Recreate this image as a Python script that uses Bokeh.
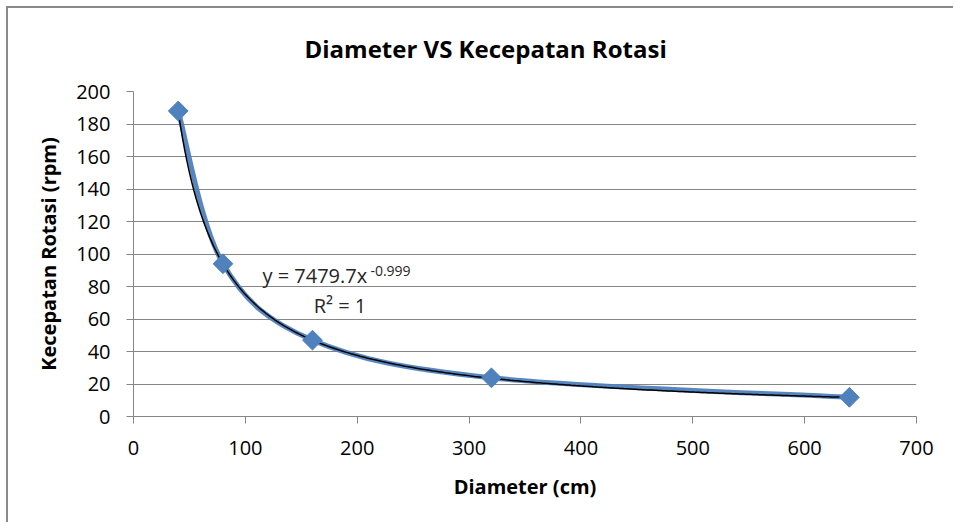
from bokeh.plotting import figure
from bokeh.models import FixedTicker, Range1d
from bokeh.core.properties import value
from bokeh.embed import file_html
from bokeh.resources import INLINE
import numpy as np

# ---- data ----
diameter = [40, 80, 160, 320, 640]
rpm = [188, 94, 47, 23.8, 11.8]
trend_a = 7479.7
trend_b = -0.999
x_ticks = [0, 100, 200, 300, 400, 500, 600, 700]
y_ticks = [0, 20, 40, 60, 80, 100, 120, 140, 160, 180, 200]

title_text = "Diameter VS Kecepatan Rotasi"
x_label = "Diameter (cm)"
y_label = "Kecepatan Rotasi (rpm)"
eq_main = "y = 7479.7x"
eq_power = "-0.999"
eq_r2 = "R² = 1"

FONT = "Open Sans"
BLUE = "#4F81BD"
GRID = "#868686"
TXT = "#000000"

p = figure(width=953, height=522, output_backend="svg", toolbar_location=None,
           x_range=Range1d(0, 700), y_range=Range1d(0, 200),
           min_border_left=133, min_border_right=37, min_border_top=91, min_border_bottom=106)
p.styles = {
    "background": ("linear-gradient(#8a8a8a,#8a8a8a) 6px 6px / 2px 100% no-repeat, "
                   "linear-gradient(#8a8a8a,#8a8a8a) 6px 6px / 100% 2px no-repeat, white"),
}

p.title.text = title_text
p.title.text_font = FONT
p.title.text_font_size = "24px"
p.title.text_font_style = "bold"
p.title.text_color = TXT
p.title.align = "left"
p.title.offset = 171
p.title.standoff = 53

p.outline_line_color = None
p.background_fill_color = "white"
p.border_fill_color = None

p.xgrid.grid_line_color = None
p.ygrid.grid_line_color = GRID
p.ygrid.grid_line_width = 1
p.xaxis.ticker = FixedTicker(ticks=x_ticks)
p.yaxis.ticker = FixedTicker(ticks=y_ticks)

for ax in (p.xaxis[0], p.yaxis[0]):
    ax.axis_line_color = GRID
    ax.major_tick_line_color = GRID
    ax.major_tick_out = 7
    ax.major_tick_in = 0
    ax.minor_tick_line_color = None
    ax.major_label_text_font = FONT
    ax.major_label_text_font_size = "20px"
    ax.major_label_text_color = TXT
    ax.axis_label_text_font = FONT
    ax.axis_label_text_font_size = "20px"
    ax.axis_label_text_font_style = "bold"
    ax.axis_label_text_color = TXT

p.xaxis.axis_label = x_label
p.yaxis.axis_label = y_label
p.xaxis.major_label_standoff = 17
p.yaxis.major_label_standoff = 16
p.xaxis.axis_label_standoff = 15
p.yaxis.axis_label_standoff = 11

# smoothed series line (Bezier segments built from the data points)
n = len(diameter)
xs = np.array(diameter, dtype=float)
ys = np.array(rpm, dtype=float)
x0, y0, x1, y1, cx0, cy0, cx1, cy1 = ([] for _ in range(8))
for i in range(n - 1):
    pm = i - 1 if i > 0 else i
    pp = i + 2 if i + 2 < n else i + 1
    x0.append(xs[i]); y0.append(ys[i]); x1.append(xs[i + 1]); y1.append(ys[i + 1])
    cx0.append(xs[i] + (xs[i + 1] - xs[pm]) / 6); cy0.append(ys[i] + (ys[i + 1] - ys[pm]) / 6)
    cx1.append(xs[i + 1] - (xs[pp] - xs[i]) / 6); cy1.append(ys[i + 1] - (ys[pp] - ys[i]) / 6)
p.bezier(x0=x0, y0=y0, x1=x1, y1=y1, cx0=cx0, cy0=cy0, cx1=cx1, cy1=cy1,
         line_color=BLUE, line_width=5, line_alpha=0.95)

# power trendline from the displayed equation
tx = np.linspace(min(diameter), max(diameter), 300)
ty = trend_a * tx ** trend_b
p.line(tx, ty, line_color="black", line_width=1.5)

# markers
p.scatter(diameter, rpm, marker="square", angle=np.pi / 4, size=14,
          fill_color=BLUE, line_color=BLUE)

# equation labels
p.text(x=[115.3], y=[86.8], text=[eq_main], text_font=value(FONT), text_font_size="20px",
       text_color="#262626", text_baseline="middle", text_align="left")
p.text(x=[211.8], y=[89.8], text=[eq_power], text_font=value(FONT), text_font_size="14px",
       text_color="#262626", text_baseline="middle", text_align="left")
p.text(x=[184.6], y=[68.3], text=[eq_r2], text_font=value(FONT), text_font_size="20px",
       text_color="#262626", text_baseline="middle", text_align="center")

open("out.html", "w").write(file_html(p, INLINE))
